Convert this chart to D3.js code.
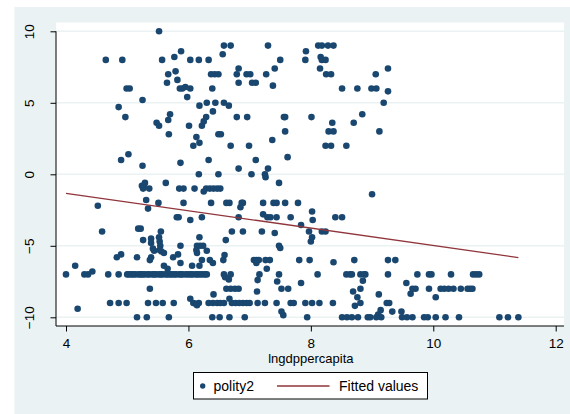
<!DOCTYPE html>
<html>
<head>
<meta charset="utf-8">
<script src="https://cdn.jsdelivr.net/npm/d3@7"></script>
<style>
  body { margin: 0; background: #fff; }
  svg { display: block; font-family: Arial, "Liberation Sans", sans-serif; }
</style>
</head>
<body>
<div id="chart"></div>
<script>
// polity2 against lngdppercapita: [lngdppercapita, polity2]
const polity2 = [
  [5.52,10],
  [6.58,9],[6.69,9],[7.30,9],[8.12,9],[8.18,9],[8.28,9],[8.37,9],
  [5.88,8.6],[7.92,8.6],[6.56,8.4],[5.77,8.2],[8.16,8.2],
  [4.65,8],[4.92,8],[5.57,8],[6.03,8],[6.17,8],[6.33,8],[7.50,8],[7.91,8],[8.18,8],[8.24,8],
  [6.82,7.4],[7.41,7.4],[8.15,7.4],[9.26,7.4],[5.79,7.2],
  [5.67,7],[6.37,7],[6.43,7],[6.49,7],[6.79,7],[6.95,7],[7.01,7],[7.27,7],[8.25,7],[8.33,7],[9.06,7],
  [5.82,6.6],[5.65,6.4],[6.82,6.4],[7.04,6.4],[7.10,6.4],[7.38,6.2],[5.95,6.1],
  [4.99,6],[5.04,6],[5.86,6],[5.90,6],[6.03,6],[6.39,6],[8.51,6],[8.76,6],[8.99,6],[9.07,6],
  [9.26,5.8],[5.98,5.4],[5.25,5.2],
  [6.30,5],[6.44,5],[6.58,5],[9.19,5],[6.18,4.8],[6.66,4.8],[4.86,4.7],[6.40,4.4],
  [5.70,4.2],[8.84,4.2],
  [4.97,4],[6.29,4],[6.79,4],[6.96,4],[7.56,4],[7.58,4],[8.01,4],
  [5.67,3.8],[6.25,3.7],[5.48,3.6],[8.35,3.6],[8.70,3.6],[5.52,3.4],[6.01,3.4],[6.22,3.4],
  [7.58,3],[8.29,3],[8.37,3],[9.12,3],
  [5.68,2.8],[6.49,2.8],[6.53,2.8],[6.13,2.6],[7.37,2.4],[6.18,2.2],
  [6.08,2],[6.69,2],[6.99,2],[8.24,2],[8.33,2],[8.58,2],
  [5.02,1.4],[7.62,1.2],[4.90,1],[6.33,1],[7.10,1],[5.87,0.8],[5.25,0.6],[6.82,0.4],[7.30,0.4],
  [6.17,0],[6.49,0],[7.03,0],[7.25,0],[7.26,-0.2],
  [5.29,-0.6],[5.63,-0.6],[7.48,-0.6],[5.24,-0.8],[5.27,-0.8],
  [5.26,-1],[5.36,-1],[5.85,-1],[5.92,-1],[6.10,-1],[6.29,-1],[6.35,-1],[6.41,-1],[6.47,-1],[6.52,-1],
  [6.25,-1.2],[9.00,-1.4],[5.31,-1.8],
  [5.51,-2],[5.92,-2],[6.37,-2],[6.62,-2],[6.67,-2],[6.87,-2],[6.89,-2],[7.22,-2],[7.39,-2],[7.44,-2],[7.58,-2],[7.79,-2],
  [4.52,-2.2],[6.85,-2.3],[5.34,-2.4],[8.02,-2.6],[7.22,-2.8],
  [5.81,-3],[5.84,-3],[6.22,-3],[6.82,-3],[7.29,-3],[7.34,-3],[7.44,-3],[7.67,-3],[8.40,-3],[8.51,-3],
  [6.03,-3.2],[8.03,-3.2],[7.84,-3.55],[5.18,-3.8],[5.22,-3.8],
  [4.59,-4],[5.55,-4],[6.71,-4],[6.89,-4],[7.20,-4],[7.97,-4],[8.18,-4],[8.24,-4],[7.41,-4.1],
  [5.52,-4.4],[6.18,-4.4],[8.02,-4.4],[5.39,-4.5],[5.26,-4.6],[6.61,-4.6],[5.53,-4.7],[8.00,-4.7],[5.39,-4.8],
  [5.54,-5],[5.87,-5],[6.14,-5],[6.19,-5],[6.24,-5],[7.48,-5],
  [5.42,-5.2],[7.50,-5.15],[5.44,-5.35],[5.53,-5.3],[6.13,-5.3],[6.30,-5.35],[5.56,-5.4],[5.60,-5.5],[6.14,-5.5],
  [4.90,-5.6],[5.83,-5.6],[6.59,-5.65],
  [4.83,-5.8],[5.16,-5.8],[5.39,-5.8],[5.75,-5.8],
  [5.37,-6],[6.22,-6],[6.35,-6],[6.57,-6],[7.07,-6],[7.11,-6],[7.15,-6],[7.26,-6],[7.33,-6],[7.81,-6],[7.98,-6],[8.71,-6],[9.26,-6],[9.38,-6],
  [8.37,-6.15],[5.87,-6.2],[6.40,-6.2],[7.11,-6.2],
  [4.15,-6.4],[5.60,-6.4],[6.06,-6.4],[6.18,-6.4],[5.66,-6.6],[7.28,-6.6],[4.43,-6.8],
  [4.00,-7],[4.30,-7],[4.36,-7],[4.69,-7],[4.86,-7],
  [5.00,-7],[5.03,-7],[5.07,-7],[5.10,-7],[5.14,-7],[5.19,-7],[5.22,-7],[5.25,-7],[5.28,-7],[5.33,-7],
  [5.36,-7],[5.41,-7],[5.44,-7],[5.47,-7],[5.52,-7],[5.55,-7],[5.58,-7],[5.63,-7],[5.66,-7],[5.70,-7],
  [5.73,-7],[5.77,-7],[5.80,-7],[5.85,-7],[5.88,-7],[5.91,-7],[5.96,-7],[6.00,-7],[6.04,-7],[6.07,-7],
  [6.12,-7],[6.15,-7],[6.19,-7],[6.23,-7],[6.27,-7],[6.30,-7],
  [6.58,-7],[6.69,-7],[7.16,-7],[7.48,-7],[8.11,-7],[8.58,-7],[8.64,-7],[8.67,-7],[8.81,-7],[8.87,-7],[8.89,-7],
  [9.26,-7],[9.74,-7],[9.93,-7],[9.97,-7],[10.29,-7],[10.65,-7],[10.70,-7],[10.75,-7],
  [6.60,-7.2],[6.66,-7.35],[7.13,-7.4],[7.45,-7.5],[8.85,-7.44],[7.84,-7.6],[9.56,-7.6],
  [5.37,-8],[6.62,-8],[6.69,-8],[6.76,-8],[6.82,-8],[7.52,-8],[7.63,-8],[8.81,-8],[9.66,-8],[9.71,-8],[9.93,-8],
  [10.12,-8],[10.18,-8],[10.25,-8],[10.33,-8],[10.45,-8],[10.56,-8],[10.60,-8],[10.64,-8],
  [7.12,-8.2],[8.69,-8.2],[6.41,-8.4],[9.11,-8.4],[9.63,-8.35],[8.76,-8.6],[10.04,-8.6],[6.03,-8.7],[6.67,-8.7],
  [4.72,-9],[4.86,-9],[4.99,-9],[5.34,-9],[5.47,-9],[5.58,-9],[5.76,-9],[6.08,-9],[6.12,-9.05],[6.17,-9],
  [6.33,-9],[6.40,-9],[6.47,-9],[6.52,-9],[6.58,-9],[6.71,-9],[6.77,-9],[6.83,-9],[6.89,-9],[6.95,-9],[7.00,-9],
  [7.13,-9],[7.25,-9],[7.44,-9],[7.67,-9],[7.72,-9],[7.91,-9],[8.02,-9],[8.14,-9],[8.36,-9],[8.81,-9],[9.24,-9],[9.28,-9],
  [6.14,-9.15],[8.72,-9.2],[4.19,-9.4],[9.14,-9.5],[7.52,-9.6],[9.33,-9.6],[9.48,-9.6],[9.10,-9.8],[7.55,-9.85],
  [5.16,-10],[5.32,-10],[5.68,-10],[6.39,-10],[6.51,-10],[6.67,-10],[6.92,-10],[7.94,-10],
  [8.51,-10],[8.59,-10],[8.67,-10],[8.77,-10],[8.93,-10],[8.97,-10],[9.07,-10],[9.15,-10],
  [9.49,-10],[9.57,-10],[9.66,-10],[9.85,-10],[9.91,-10],[10.04,-10],[10.20,-10],[10.42,-10],
  [11.08,-10],[11.22,-10],[11.39,-10]
];

// fitted values (ends of the regression line)
const fittedX = [4.0, 11.39];
const fittedY = [-1.33, -5.82];

const xTicks = [4, 6, 8, 10, 12];
const yTicks = [-10, -5, 0, 5, 10];
const legendLabels = ["polity2", "Fitted values"];

const width = 570, height = 414;
const navy = "#1a476f", maroon = "#90353b", bluishGray = "#eaf2f3";

const svg = d3.select("#chart").append("svg")
  .attr("width", width)
  .attr("height", height);

// graph region
svg.append("rect")
  .attr("x", 14.5).attr("y", 7)
  .attr("width", width - 14.5).attr("height", height - 7)
  .attr("fill", bluishGray);

const plot = { left: 56, right: 564, top: 22.5, bottom: 326 };

svg.append("rect")
  .attr("x", plot.left).attr("y", plot.top)
  .attr("width", plot.right - plot.left).attr("height", plot.bottom - plot.top)
  .attr("fill", "#fff");

const x = d3.scaleLinear().domain([4, 12]).range([66, 555.7]);
const y = d3.scaleLinear().domain([-10, 10]).range([317.3, 31.3]);

// grid
svg.append("g").selectAll("line")
  .data(yTicks)
  .enter().append("line")
  .attr("x1", plot.left).attr("x2", plot.right)
  .attr("y1", d => y(d)).attr("y2", d => y(d))
  .attr("stroke", bluishGray)
  .attr("stroke-width", 1.6);

// scatter
svg.append("g").selectAll("circle")
  .data(polity2)
  .enter().append("circle")
  .attr("cx", d => x(d[0]))
  .attr("cy", d => y(d[1]))
  .attr("r", 3.3)
  .attr("fill", navy);

// fitted line
svg.append("line")
  .attr("x1", x(fittedX[0])).attr("y1", y(fittedY[0]))
  .attr("x2", x(fittedX[1])).attr("y2", y(fittedY[1]))
  .attr("stroke", maroon)
  .attr("stroke-width", 1.3);

// axes
const xAxis = svg.append("g")
  .attr("transform", `translate(0,${plot.bottom})`)
  .call(d3.axisBottom(x).tickValues(xTicks).tickSize(5.5).tickPadding(6.5));

const yAxis = svg.append("g")
  .attr("transform", `translate(${plot.left},0)`)
  .call(d3.axisLeft(y).tickValues(yTicks).tickSize(5.5));

[xAxis, yAxis].forEach(g => {
  g.select(".domain").remove();
  g.selectAll("line").attr("stroke", "#000");
  g.selectAll("text").attr("fill", "#000").style("font-size", "13.5px");
});

yAxis.selectAll("text")
  .attr("x", null).attr("dy", null)
  .attr("text-anchor", "middle")
  .attr("transform", "translate(-22.5,0) rotate(-90)");

svg.append("line")
  .attr("x1", plot.left).attr("x2", plot.left)
  .attr("y1", y(10)).attr("y2", plot.bottom)
  .attr("stroke", "#000");
svg.append("line")
  .attr("x1", plot.left).attr("x2", plot.right)
  .attr("y1", plot.bottom).attr("y2", plot.bottom)
  .attr("stroke", "#000");

svg.append("text")
  .attr("x", (x(4) + x(12)) / 2)
  .attr("y", 362.5)
  .attr("text-anchor", "middle")
  .style("font-size", "13px")
  .text("lngdppercapita");

// legend
const legend = svg.append("g");
legend.append("rect")
  .attr("x", 193.5).attr("y", 372.5)
  .attr("width", 234).attr("height", 26.5)
  .attr("fill", "#fff")
  .attr("stroke", "#000");
legend.append("circle")
  .attr("cx", 202.7).attr("cy", 386).attr("r", 2.7)
  .attr("fill", navy);
legend.append("text")
  .attr("x", 213.5).attr("y", 391)
  .style("font-size", "14px")
  .text(legendLabels[0]);
legend.append("line")
  .attr("x1", 277).attr("x2", 329.5)
  .attr("y1", 386).attr("y2", 386)
  .attr("stroke", maroon)
  .attr("stroke-width", 1.3);
legend.append("text")
  .attr("x", 339).attr("y", 391)
  .style("font-size", "14px")
  .text(legendLabels[1]);
</script>
</body>
</html>
